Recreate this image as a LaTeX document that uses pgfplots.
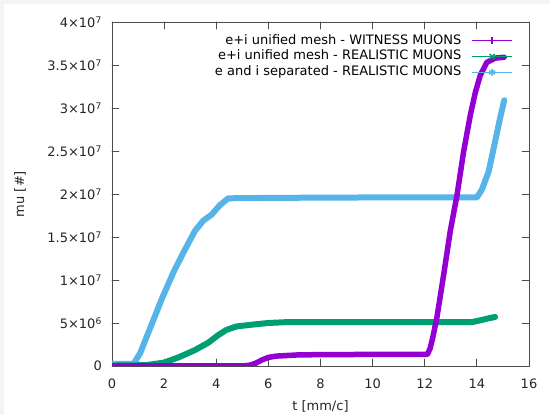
\documentclass[border=0pt]{standalone}
\usepackage{fontspec}
\setmainfont{DejaVu Sans}
\usepackage{pgfplots}
\pgfplotsset{compat=1.18}
\definecolor{cpurple}{HTML}{9400D3}
\definecolor{cgreen}{HTML}{009E73}
\definecolor{cblue}{HTML}{56B4E9}
\definecolor{bordergray}{HTML}{F4F4F4}
\begin{document}
\fontsize{13bp}{15.6bp}\selectfont
\begin{tikzpicture}
\fill[bordergray] (0,0) rectangle (550bp,415bp);
\fill[white] (4bp,0) rectangle (550bp,411bp);
\useasboundingbox (0,0) rectangle (550bp,415bp);
\begin{axis}[at={(112bp,49bp)}, anchor=south west, scale only axis,
  width=417bp, height=344bp,
  xmin=0, xmax=16, ymin=0, ymax=4e7,
  xtick={0,2,4,6,8,10,12,14,16},
  xticklabels={0,2,4,6,8,10,12,14,16},
  ytick={0,5e6,1e7,1.5e7,2e7,2.5e7,3e7,3.5e7,4e7},
  yticklabels={0,{5×10\textsuperscript{6}},{1×10\textsuperscript{7}},{1.5×10\textsuperscript{7}},{2×10\textsuperscript{7}},{2.5×10\textsuperscript{7}},{3×10\textsuperscript{7}},{3.5×10\textsuperscript{7}},{4×10\textsuperscript{7}}},
  scaled y ticks=false, scaled x ticks=false,
  tick align=inside, major tick length=7bp,
  axis line style={black!70, line width=0.8bp},
  tick style={black!70, line width=0.8bp},
  every tick label/.append style={font=\fontsize{13bp}{15.6bp}\selectfont, text=black!85},
  xticklabel style={anchor=base, yshift=-22bp, inner sep=0pt},
  yticklabel style={anchor=east, inner sep=0pt, xshift=-10bp},
  xlabel={t [mm/c]}, ylabel={mu [\#]},
  label style={font=\fontsize{13bp}{15.6bp}\selectfont, text=black!85},
  xlabel style={at={(axis description cs:0.5,0)}, anchor=center, yshift=-40bp},
  ylabel style={at={([xshift=-92bp]axis description cs:0,0.5)}, anchor=center},
  legend style={at={(1,1)}, anchor=north east, xshift=-16bp, yshift=-12bp,
    draw=none, fill=none, font=\fontsize{13bp}{15.6bp}\selectfont,
    row sep=2.8bp, column sep=10bp, inner sep=0pt,
    nodes={inner sep=0pt, text height=10bp, text depth=3bp}},
  legend cell align=right,
  legend plot pos=right,
  legend image code/.code={\draw[mark repeat=2,mark phase=2,#1] plot coordinates {(0bp,0bp) (20bp,0bp) (40bp,0bp)};},
  line cap=round, line join=round,
]
\addlegendimage{color=cpurple, draw=cpurple, line width=1.4bp, mark=+, mark size=3.5bp}
\addlegendentry{e+i unified mesh - WITNESS MUONS}
\addlegendimage{color=cgreen, draw=cgreen, line width=1.4bp, mark=x, mark size=3.5bp}
\addlegendentry{e+i unified mesh - REALISTIC MUONS}
\addlegendimage{color=cblue, draw=cblue, line width=1.4bp, mark=asterisk, mark size=3.5bp}
\addlegendentry{e and i separated - REALISTIC MUONS}

% e and i separated - REALISTIC MUONS
\addplot[cblue, line width=6bp, forget plot] coordinates {
(0,0.25e6) (0.83,0.25e6) (1.08,1.5e6) (1.53,4.9e6) (1.91,7.8e6) (2.36,10.9e6)
(2.74,13.2e6) (3.18,15.7e6) (3.50,16.9e6) (3.82,17.6e6) (4.14,18.7e6) (4.46,19.5e6)
(6.1,19.55e6) (10,19.6e6) (14.0,19.6e6) (14.19,20.5e6) (14.45,22.6e6) (14.70,26.1e6)
(14.89,28.8e6) (15.05,30.9e6)
};
% e+i unified mesh - REALISTIC MUONS
\addplot[cgreen, line width=6bp, forget plot] coordinates {
(0,0.05e6) (1.3,0.1e6) (2.0,0.4e6) (2.55,1.0e6) (3.18,1.85e6) (3.69,2.7e6)
(4.08,3.6e6) (4.39,4.2e6) (4.78,4.6e6) (5.35,4.8e6) (5.99,5.0e6) (6.7,5.1e6)
(10,5.1e6) (13.8,5.1e6) (14.19,5.35e6) (14.45,5.55e6) (14.7,5.7e6)
};
% e+i unified mesh - WITNESS MUONS
\addplot[cpurple, line width=5.5bp, forget plot] coordinates {
(0,0) (2,0) (5.0,0) (5.3,0.1e6) (5.5,0.3e6) (5.75,0.7e6) (6.0,1.0e6) (6.3,1.15e6)
(7.2,1.3e6) (10,1.35e6) (12.1,1.35e6) (12.2,2.0e6) (12.3,3.2e6) (12.47,5.7e6)
(12.73,10.7e6) (12.98,15.7e6) (13.24,19.9e6) (13.49,24.9e6) (13.75,29.2e6)
(13.94,31.8e6) (14.13,33.8e6) (14.38,35.3e6) (14.7,35.8e6) (15.05,35.9e6)
};
\end{axis}
\end{tikzpicture}
\end{document}
